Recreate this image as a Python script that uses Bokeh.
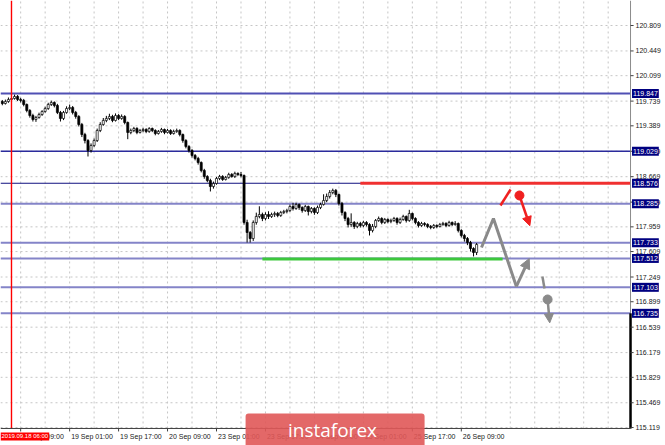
from bokeh.plotting import figure
from bokeh.models import (Range1d, Label, BoxAnnotation, Arrow, NormalHead, ColumnDataSource)
from bokeh.embed import file_html
from bokeh.resources import INLINE
from bokeh.core.properties import value

# ---------------- data (H1 bars, index 0 = 2019.09.18 06:00) ----------------
first_bar = -3
first_open = 119.733
closes = [119.705, 119.733, 119.762, 119.776, 119.804, 119.762, 119.748, 119.691, 119.606, 119.535,
          119.479, 119.507, 119.549, 119.592, 119.634, 119.691, 119.719, 119.677, 119.578, 119.493,
          119.578, 119.634, 119.648, 119.578, 119.521, 119.408, 119.266, 119.181, 119.040, 119.111,
          119.181, 119.323, 119.408, 119.465, 119.493, 119.521, 119.465, 119.535, 119.493, 119.521,
          119.436, 119.295, 119.323, 119.351, 119.295, 119.323, 119.337, 119.309, 119.351, 119.323,
          119.280, 119.309, 119.337, 119.295, 119.323, 119.280, 119.309, 119.323, 119.266, 119.181,
          119.097, 119.040, 118.969, 118.927, 118.870, 118.757, 118.672, 118.615, 118.530, 118.573,
          118.644, 118.672, 118.630, 118.658, 118.700, 118.672, 118.715, 118.700, 118.686, 118.021,
          117.879, 117.794, 118.021, 118.106, 118.134, 118.077, 118.134, 118.106, 118.134, 118.148,
          118.120, 118.162, 118.176, 118.190, 118.247, 118.219, 118.276, 118.233, 118.190, 118.247,
          118.176, 118.219, 118.162, 118.233, 118.276, 118.332, 118.389, 118.445, 118.474, 118.417,
          118.290, 118.162, 118.077, 117.992, 118.021, 117.964, 118.006, 117.978, 118.021, 117.992,
          117.908, 117.964, 118.049, 118.077, 118.021, 118.063, 118.035, 118.049, 118.077, 118.021,
          118.063, 118.106, 118.049, 118.148, 118.077, 118.021, 117.978, 118.006, 117.992, 117.964,
          117.950, 117.978, 117.964, 117.992, 118.006, 117.978, 118.021, 117.992, 118.006, 117.908,
          117.837, 117.794, 117.737, 117.652, 117.596, 117.709]
highs = [119.755, 119.760, 119.790, 119.815, 119.830, 119.825, 119.785, 119.770, 119.705, 119.625,
         119.560, 119.530, 119.575, 119.610, 119.660, 119.715, 119.745, 119.735, 119.700, 119.600,
         119.600, 119.665, 119.690, 119.670, 119.600, 119.540, 119.430, 119.290, 119.200, 119.140,
         119.210, 119.350, 119.440, 119.500, 119.530, 119.560, 119.545, 119.565, 119.555, 119.550,
         119.540, 119.450, 119.350, 119.375, 119.370, 119.345, 119.360, 119.355, 119.370, 119.365,
         119.340, 119.330, 119.360, 119.350, 119.345, 119.340, 119.335, 119.350, 119.340, 119.280,
         119.200, 119.115, 119.060, 118.990, 118.950, 118.885, 118.780, 118.690, 118.640, 118.600,
         118.665, 118.695, 118.690, 118.680, 118.725, 118.720, 118.740, 118.730, 118.735, 118.700,
         118.060, 117.900, 118.050, 118.160, 118.250, 118.160, 118.165, 118.180, 118.160, 118.175,
         118.170, 118.185, 118.200, 118.215, 118.275, 118.300, 118.300, 118.290, 118.250, 118.270,
         118.260, 118.240, 118.235, 118.260, 118.300, 118.420, 118.430, 118.480, 118.500, 118.495,
         118.430, 118.310, 118.180, 118.100, 118.150, 118.040, 118.030, 118.030, 118.045, 118.040,
         118.010, 118.000, 118.070, 118.105, 118.095, 118.085, 118.080, 118.075, 118.100, 118.095,
         118.090, 118.130, 118.120, 118.200, 118.160, 118.095, 118.040, 118.030, 118.025, 118.010,
         117.985, 118.000, 117.995, 118.015, 118.030, 118.025, 118.045, 118.035, 118.040, 118.020,
         117.925, 117.860, 117.815, 117.760, 117.670, 117.730]
lows = [119.680, 119.690, 119.715, 119.740, 119.760, 119.740, 119.720, 119.665, 119.580, 119.505,
        119.450, 119.445, 119.490, 119.530, 119.575, 119.615, 119.670, 119.650, 119.555, 119.450,
        119.470, 119.560, 119.610, 119.550, 119.490, 119.380, 119.230, 119.140, 118.955, 119.010,
        119.090, 119.160, 119.300, 119.390, 119.440, 119.470, 119.440, 119.450, 119.470, 119.475,
        119.410, 119.200, 119.270, 119.300, 119.270, 119.280, 119.300, 119.285, 119.290, 119.300,
        119.255, 119.265, 119.290, 119.270, 119.280, 119.260, 119.265, 119.290, 119.240, 119.150,
        119.070, 119.010, 118.940, 118.900, 118.840, 118.730, 118.640, 118.590, 118.460, 118.500,
        118.555, 118.620, 118.610, 118.615, 118.640, 118.655, 118.650, 118.680, 118.660, 117.990,
        117.737, 117.737, 117.760, 117.990, 118.080, 118.040, 118.050, 118.070, 118.085, 118.100,
        118.095, 118.100, 118.140, 118.150, 118.170, 118.190, 118.200, 118.200, 118.160, 118.170,
        118.120, 118.150, 118.130, 118.140, 118.210, 118.260, 118.310, 118.360, 118.420, 118.380,
        118.260, 118.120, 118.040, 117.950, 117.960, 117.930, 117.940, 117.950, 117.955, 117.965,
        117.837, 117.880, 117.940, 118.030, 117.995, 118.000, 118.010, 118.010, 118.030, 117.990,
        118.000, 118.045, 118.020, 118.030, 118.050, 117.995, 117.950, 117.960, 117.965, 117.940,
        117.925, 117.930, 117.940, 117.950, 117.975, 117.955, 117.960, 117.970, 117.975, 117.880,
        117.810, 117.750, 117.700, 117.610, 117.540, 117.560]

price_ticks = [120.809, 120.449, 120.099, 119.739, 119.389, 119.029, 118.669, 118.309, 117.959,
               117.609, 117.249, 116.899, 116.539, 116.179, 115.829, 115.469, 115.119]
levels_dark = [119.847, 119.029, 118.576]
levels_light = [118.285, 117.733, 117.512, 117.103, 116.735]
time_tick_bars = [3, 19, 35, 51, 67, 83, 99, 115, 131, 147]
time_tick_labels = ["18 Sep 09:00", "19 Sep 01:00", "19 Sep 17:00", "20 Sep 09:00", "23 Sep 01:00",
                    "23 Sep 17:00", "24 Sep 09:00", "25 Sep 01:00", "25 Sep 17:00", "26 Sep 09:00"]
grid_bars = [3, 11, 19, 27, 35, 43, 51, 59, 67, 75, 83, 91, 99, 107, 115, 123, 131, 139, 147,
             155, 163, 171, 179, 187, 195]
cursor_bar = 0
cursor_label = "2019.09.18 06:00"

resistance = 118.576
resistance_from = 114.0
support = 117.505
support_from, support_to = 82.0, 160.5

gray_path_x = [153.6, 157.5, 165.0]
gray_path_y = [117.667, 118.077, 117.115]
gray_up = (165.0, 117.115, 169.2, 117.510)
red_slash_x = [159.8, 163.1]
red_slash_y = [118.261, 118.488]
red_dot = (166.0, 118.403)
red_arrow_end = (169.4, 117.975)
gray_dash_x = [173.5, 174.2]
gray_dash_y = [117.256, 117.087]
gray_dot = (175.2, 116.931)
gray_arrow_end = (175.9, 116.600)

# chart area (bars x price) and full canvas extents
x_lo, area_x_hi, canvas_x_hi = -3.59, 202.3, 213.73
area_y_lo, y_hi, canvas_y_lo = 115.105, 121.163, 114.864
axis_label_y = 114.992
tick_len_x = 1.0      # 3 px in bar units
tick_len_y = 0.042    # 3 px in price units
watermark = dict(left=76.5, right=135.0, top=115.317)
watermark_text_pos = (104.9, 115.085)

# ---------------- build ----------------
n = len(closes)
bars = [first_bar + i for i in range(n)]
opens = [first_open] + closes[:-1]
tops = [max(o, c) for o, c in zip(opens, closes)]
bots = [min(o, c) for o, c in zip(opens, closes)]
fills = ["white" if c >= o else "black" for o, c in zip(opens, closes)]
src = ColumnDataSource(dict(x=bars, h=highs, l=lows, top=tops, bot=bots, fill=fills))

p = figure(frame_width=665, frame_height=445,
           x_range=Range1d(x_lo, canvas_x_hi), y_range=Range1d(canvas_y_lo, y_hi),
           x_axis_location=None, y_axis_location=None,
           output_backend="svg", toolbar_location=None,
           min_border=0, background_fill_color="white", border_fill_color="white",
           outline_line_color=None)
p.styles = {"position": "absolute", "left": "0px", "top": "0px"}
p.xgrid.visible = False
p.ygrid.visible = False

GRID = "#c6c6c6"
# grid lines (dotted) inside the chart area
p.segment(x0=grid_bars, x1=grid_bars, y0=area_y_lo, y1=y_hi,
          line_color=GRID, line_dash="2 3", line_width=1)
p.segment(x0=x_lo, x1=area_x_hi, y0=price_ticks, y1=price_ticks,
          line_color=GRID, line_dash="2 3", line_width=1)

# horizontal levels
for lv in levels_light:
    p.segment(x0=x_lo, x1=area_x_hi, y0=lv, y1=lv, line_color="#8484c8", line_width=2)
for lv, col, w in zip(levels_dark, ["#5050b4", "#2b2b9c", "#101080"], [2, 1.5, 1]):
    p.segment(x0=x_lo, x1=area_x_hi, y0=lv, y1=lv, line_color=col, line_width=w)

# candles
p.segment(x0="x", x1="x", y0="l", y1="h", source=src, line_color="black", line_width=1)
p.vbar(x="x", width=0.68, top="top", bottom="bot", source=src,
       fill_color="fill", line_color="black", line_width=0.7)

# support / resistance
p.segment(x0=resistance_from, x1=area_x_hi, y0=resistance, y1=resistance, line_color="#f03030", line_width=3)
p.segment(x0=support_from, x1=support_to, y0=support, y1=support, line_color="#3cc83c", line_width=3)

# scenario drawings
GRAY = "#8a8a8a"
RED = "#f02020"
p.line(gray_path_x, gray_path_y, line_color=GRAY, line_width=3)
p.add_layout(Arrow(end=NormalHead(size=10, fill_color=GRAY, line_color=GRAY),
                   x_start=gray_up[0], y_start=gray_up[1], x_end=gray_up[2], y_end=gray_up[3],
                   line_color=GRAY, line_width=3))
p.line(red_slash_x, red_slash_y, line_color=RED, line_width=2.5)
p.scatter([red_dot[0]], [red_dot[1]], size=9, color=RED)
p.add_layout(Arrow(end=NormalHead(size=9, fill_color=RED, line_color=RED),
                   x_start=red_dot[0], y_start=red_dot[1], x_end=red_arrow_end[0], y_end=red_arrow_end[1],
                   line_color=RED, line_width=2.5))
p.line(gray_dash_x, gray_dash_y, line_color=GRAY, line_width=2.5)
p.scatter([gray_dot[0]], [gray_dot[1]], size=9, color=GRAY)
p.add_layout(Arrow(end=NormalHead(size=9, fill_color=GRAY, line_color=GRAY),
                   x_start=gray_dot[0], y_start=gray_dot[1], x_end=gray_arrow_end[0], y_end=gray_arrow_end[1],
                   line_color=GRAY, line_width=2.5))

# cursor line
p.segment(x0=cursor_bar, x1=cursor_bar, y0=area_y_lo, y1=y_hi, line_color="#ff0000", line_width=1.4)

# ---- axes (drawn on the price/time scales) ----
# right border + thick black part below the lowest level
p.segment(x0=area_x_hi, x1=area_x_hi, y0=area_y_lo, y1=y_hi, line_color="#8c8c8c", line_width=1)
p.segment(x0=area_x_hi, x1=area_x_hi, y0=area_y_lo, y1=levels_light[-1], line_color="black", line_width=2.5)
# bottom axis line
p.segment(x0=x_lo, x1=area_x_hi, y0=area_y_lo, y1=area_y_lo, line_color="#404040", line_width=1)
# price ticks and labels
p.segment(x0=area_x_hi, x1=area_x_hi + tick_len_x, y0=price_ticks, y1=price_ticks,
          line_color="#404040", line_width=1)
p.text(x=[area_x_hi] * len(price_ticks), y=price_ticks, text=[f"{t:.3f}" for t in price_ticks],
       x_offset=5, text_align="left", text_baseline="middle",
       text_font=value("Liberation Sans"), text_font_size="7px", text_color="#202020")
# time ticks and labels
p.segment(x0=time_tick_bars, x1=time_tick_bars, y0=area_y_lo, y1=area_y_lo - tick_len_y,
          line_color="#404040", line_width=1)
p.text(x=time_tick_bars, y=[axis_label_y] * len(time_tick_bars), text=time_tick_labels,
       x_offset=1.5, text_align="left", text_baseline="middle",
       text_font=value("Liberation Sans"), text_font_size="7px", text_color="#202020")

# cursor time box
p.add_layout(Label(x=x_lo, y=axis_label_y, x_offset=0, text=cursor_label, text_align="left",
                   text_baseline="middle", text_font="Liberation Sans", text_font_size="6px",
                   text_color="white", background_fill_color="#ff0000", padding=(1, 1)))

# price level boxes
for lv in levels_dark + levels_light:
    p.add_layout(Label(x=area_x_hi, y=lv, x_offset=1.5, text=f"{lv:.3f}", text_align="left",
                       text_baseline="middle", text_font="Liberation Sans", text_font_size="7px",
                       text_color="white", background_fill_color="#000080", padding=(1, 2)))

# watermark
p.add_layout(BoxAnnotation(left=watermark["left"], right=watermark["right"],
                           bottom=canvas_y_lo - 0.1, top=watermark["top"],
                           fill_color="#e05858", fill_alpha=0.9, line_color=None, border_radius=3))
p.add_layout(Label(x=watermark_text_pos[0], y=watermark_text_pos[1], text="instaforex",
                   text_align="center", text_baseline="middle", text_font="Open Sans",
                   text_font_size="19px", text_color="white"))

open("out.html", "w").write(file_html(p, INLINE))
